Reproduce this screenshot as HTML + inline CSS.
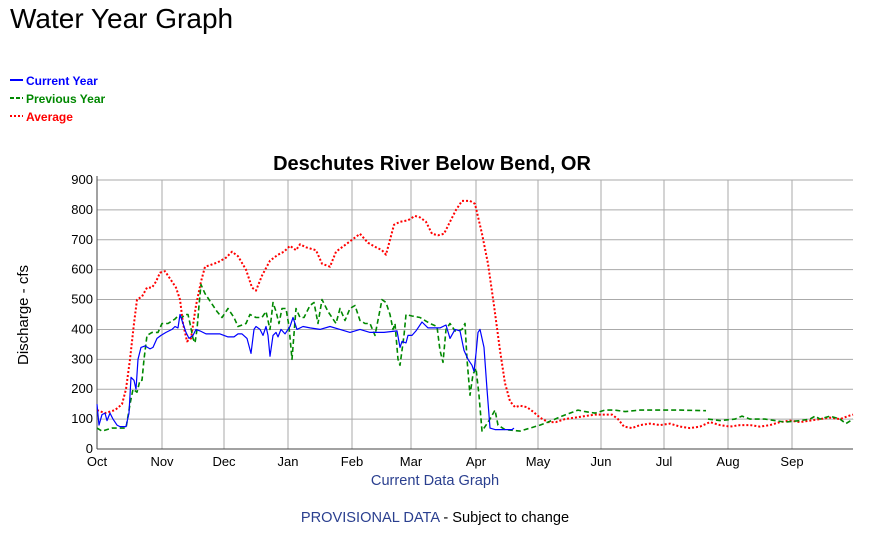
<!DOCTYPE html>
<html><head><meta charset="utf-8"><style>
body{margin:0;background:#fff;width:884px;height:545px;overflow:hidden;font-family:"Liberation Sans",Arial,sans-serif;}
</style></head><body>
<svg id="s" width="884" height="545" xmlns="http://www.w3.org/2000/svg" font-family="Liberation Sans, Arial, sans-serif">
<text x="10" y="28" font-size="28" fill="#000">Water Year Graph</text>
<line x1="10" y1="80" x2="23" y2="80" stroke="#00f" stroke-width="2"/>
<text x="26" y="85" font-size="12" font-weight="bold" fill="#00f">Current Year</text>
<line x1="10" y1="98" x2="23" y2="98" stroke="#080" stroke-width="2" stroke-dasharray="4,2"/>
<text x="26" y="103" font-size="12" font-weight="bold" fill="#080">Previous Year</text>
<line x1="10" y1="116" x2="23" y2="116" stroke="#f00" stroke-width="2" stroke-dasharray="2,2"/>
<text x="26" y="121" font-size="12" font-weight="bold" fill="#f00">Average</text>
<text x="432" y="170" font-size="20" font-weight="bold" text-anchor="middle">Deschutes River Below Bend, OR</text>
<text transform="translate(28,315) rotate(-90)" font-size="15" text-anchor="middle">Discharge - cfs</text>
<text x="435" y="485" font-size="14.6" text-anchor="middle" style="fill:#2a3f8f">Current Data Graph</text>
<text x="435" y="522" font-size="14.6" text-anchor="middle"><tspan fill="#2a3f8f">PROVISIONAL DATA</tspan> - Subject to change</text>
<g id="g"></g>
</svg>
<script>
var g=document.getElementById('g'),NS='http://www.w3.org/2000/svg';
function el(t,a,txt){var e=document.createElementNS(NS,t);for(var k in a)e.setAttribute(k,a[k]);if(txt!=null)e.textContent=txt;g.appendChild(e);return e;}
var L=97,R=853,B=449,T=180;function Y(v){return B-v*(B-T)/900;}
for(var v=100;v<=900;v+=100)el('line',{x1:L,x2:R,y1:Y(v),y2:Y(v),stroke:'#aaa','stroke-width':1});
var m=[[97,'Oct'],[162,'Nov'],[224,'Dec'],[288,'Jan'],[352,'Feb'],[411,'Mar'],[476,'Apr'],[538,'May'],[601,'Jun'],[664,'Jul'],[728,'Aug'],[792,'Sep']];
m.forEach(function(a){if(a[0]>L)el('line',{x1:a[0],x2:a[0],y1:T,y2:B,stroke:'#aaa','stroke-width':1});el('text',{x:a[0],y:466,'font-size':13,'text-anchor':'middle'},a[1]);});
for(var v=0;v<=900;v+=100)el('text',{x:93,y:Y(v)+4,'font-size':13,'text-anchor':'end'},v);
el('line',{x1:L,x2:L,y1:T-4,y2:B,stroke:'#444'});el('line',{x1:L,x2:R,y1:B,y2:B,stroke:'#444'});
function pl(d,c,w,da){var p=[];for(var i=0;i<d.length;i+=2)p.push(d[i]+','+Y(d[i+1]).toFixed(1));var a={points:p.join(' '),fill:'none',stroke:c,'stroke-width':w,'stroke-linejoin':'round'};if(da)a['stroke-dasharray']=da;el('polyline',a);}
var avg=[97,130,105,120,115,130,122,150,126,200,130,300,134,420,137,500,142,510,147,540,152,540,156,560,160,590,165,595,170,570,176,540,180,500,183,420,187,360,191,370,196,480,201,560,205,610,210,615,218,625,226,640,232,660,238,645,246,600,252,540,256,530,262,580,270,630,278,650,284,660,290,680,296,665,300,685,306,675,316,665,322,620,330,610,336,660,344,680,352,700,360,720,368,690,376,675,382,665,386,650,390,700,394,750,400,760,408,765,415,780,420,775,426,760,432,720,438,715,444,720,450,760,456,800,462,830,470,830,475,820,482,720,488,620,494,480,500,330,505,220,510,160,515,140,520,145,527,140,533,125,540,105,548,90,556,90,565,100,575,105,585,110,595,115,605,115,612,115,618,100,624,75,632,70,640,80,650,85,660,80,670,85,680,75,690,70,700,75,710,90,720,80,730,75,740,80,750,80,760,75,770,80,780,90,790,95,800,90,810,95,820,100,830,105,840,100,848,110,853,115];
var prev1=[97,70,102,60,112,70,120,70,126,70,130,150,133,200,137,190,140,230,142,230,144,300,147,380,152,390,158,390,162,420,168,420,175,435,178,445,182,440,185,450,188,450,190,420,193,370,195,355,197,400,199,480,201,550,205,520,211,490,217,460,222,440,228,470,234,440,238,410,246,420,250,450,256,440,262,440,266,460,270,400,273,490,276,460,279,420,282,470,286,470,289,410,292,300,296,470,300,440,304,440,310,480,314,490,318,420,322,500,328,460,332,440,336,420,340,470,345,430,350,470,355,480,360,430,365,420,370,420,375,380,382,500,386,490,390,450,393,400,395,420,398,300,400,280,402,330,404,380,406,450,412,445,420,440,430,420,437,410,440,330,443,290,446,400,450,420,455,395,458,395,462,400,465,420,467,300,470,180,473,250,476,270,479,180,482,60,490,100,495,130,498,80,505,65,520,60,530,70,540,80,548,90,555,100,562,110,570,120,578,130,585,125,595,120,605,130,615,130,625,125,640,130,660,130,680,130,706,128];
var prev2=[708,100,720,95,735,100,742,110,750,100,765,100,775,95,785,90,800,95,810,100,815,110,820,100,830,110,840,100,846,85,853,100];
var cur=[97,150,99,80,102,115,105,120,107,95,110,120,113,100,117,80,120,75,126,75,129,120,131,240,134,230,136,200,138,300,141,340,145,345,150,335,153,340,157,370,161,380,166,390,172,400,175,410,178,405,180,450,183,420,186,390,189,370,193,380,196,400,200,395,206,385,212,385,220,385,228,375,234,375,238,385,242,385,247,370,251,320,254,400,256,410,260,400,263,380,266,410,268,380,270,310,273,380,276,390,278,375,281,400,285,385,288,400,290,410,293,440,297,400,303,410,310,405,320,400,330,410,340,400,350,390,360,400,370,390,380,390,384,390,397,395,400,340,402,360,406,355,408,380,412,380,416,395,422,425,428,405,440,405,446,415,450,370,455,400,460,395,464,330,468,300,472,280,474,260,476,320,478,390,480,400,484,340,487,200,490,70,495,65,505,65,512,65,514,70];
pl(avg,'#f00',2,'2,2');pl(prev1,'#080',1.6,'5,3');pl(prev2,'#080',1.6,'5,3');pl(cur,'#00f',1.2);
</script>
</body></html>
